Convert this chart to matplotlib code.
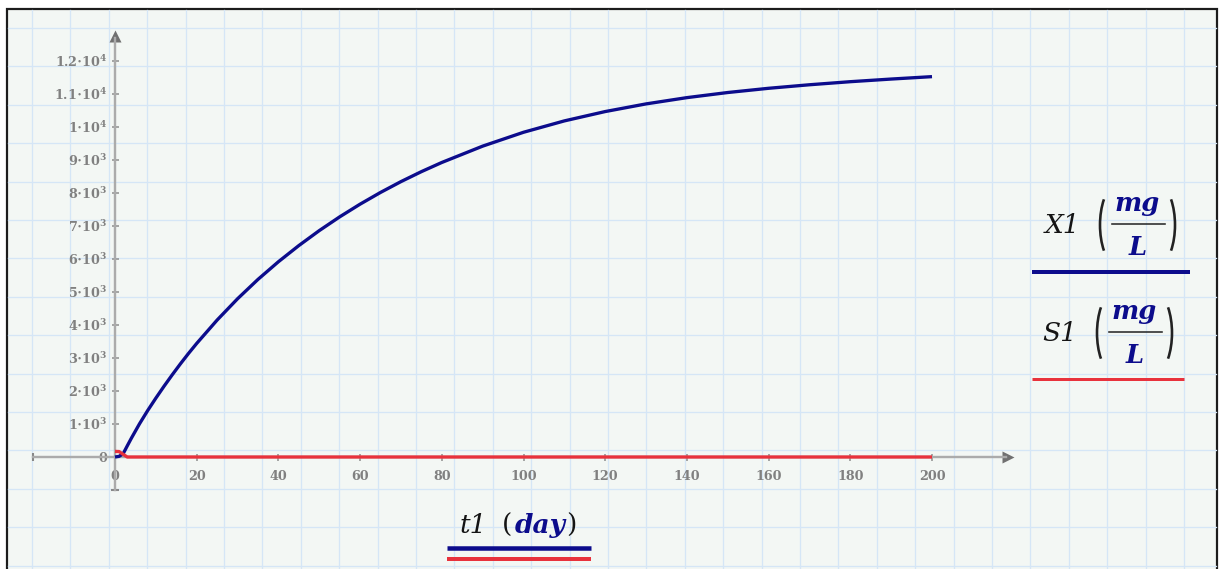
import numpy as np
import matplotlib.pyplot as plt
from matplotlib.patches import Rectangle, Arc

plt.rcParams["mathtext.fontset"] = "dejavuserif"

# biomass X1 over time (mg/L vs day)
t_day = [0, 1, 2, 3, 4, 6, 8, 10, 12, 14, 16, 18, 20, 25, 30, 35, 40, 45, 50, 55,
         60, 65, 70, 75, 80, 90, 100, 110, 120, 130, 140, 150, 160, 170, 180, 190, 200]
x1_mg_l = [0, 20, 100, 337, 568, 1006, 1408, 1784, 2144, 2489, 2821, 3139, 3442,
           4150, 4795, 5382, 5917, 6407, 6860, 7277, 7662, 8017, 8345, 8647, 8925,
           9420, 9840, 10185, 10468, 10700, 10890, 11045, 11173, 11280, 11373,
           11453, 11526]

# substrate S1 is used up within the first days
s1_t_day = [0, 1, 2, 3, 200]
s1_mg_l = [170, 165, 80, 0, 0]

x_ticks = [0, 20, 40, 60, 80, 100, 120, 140, 160, 180, 200]
x_tick_labels = ["0", "20", "40", "60", "80", "100", "120", "140", "160", "180", "200"]
y_ticks = [0, 1000, 2000, 3000, 4000, 5000, 6000, 7000, 8000, 9000, 10000, 11000, 12000]
y_tick_labels = ["0", r"$\mathbf{1{\cdot}10^3}$", r"$\mathbf{2{\cdot}10^3}$",
                 r"$\mathbf{3{\cdot}10^3}$", r"$\mathbf{4{\cdot}10^3}$",
                 r"$\mathbf{5{\cdot}10^3}$", r"$\mathbf{6{\cdot}10^3}$",
                 r"$\mathbf{7{\cdot}10^3}$", r"$\mathbf{8{\cdot}10^3}$",
                 r"$\mathbf{9{\cdot}10^3}$", r"$\mathbf{1{\cdot}10^4}$",
                 r"$\mathbf{1.1{\cdot}10^4}$", r"$\mathbf{1.2{\cdot}10^4}$"]

W, H, DPI = 1219, 569, 100
BLUE = "#0c0c8c"
RED = "#e8323c"
INK = "#141414"
AXIS_GRAY = "#ababab"
SERIF = "DejaVu Serif"
PX = 72 / DPI  # points per pixel

fig = plt.figure(figsize=(W / DPI, H / DPI), dpi=DPI)
fig.patch.set_facecolor("white")

# page background in pixel coordinates: frame + worksheet grid
bg = fig.add_axes([0, 0, 1, 1])
bg.set_xlim(0, W)
bg.set_ylim(H, 0)
bg.axis("off")
bg.add_patch(Rectangle((7, 9), 1210, 580, facecolor="#f3f7f4",
                       edgecolor="#1c1c1c", lw=2.2 * PX, zorder=0))
for gx in np.arange(32, 1216, 38.4):
    bg.plot([gx, gx], [10, H], color="#d5e6f6", lw=1.3 * PX, zorder=1)
for gy in np.arange(28, H, 38.4):
    bg.plot([8, 1216], [gy, gy], color="#d5e6f6", lw=1.3 * PX, zorder=1)

# plot region: t = 0 at x=115 px, value 0 at y=457 px
xlim = (-20, 221)
ylim = (-1000, 13000)
px_day, px_unit = 4.085, 0.033
left_px = 115 + xlim[0] * px_day
right_px = 115 + xlim[1] * px_day
bottom_px = 457 - ylim[0] * px_unit
top_px = 457 - ylim[1] * px_unit
ax = fig.add_axes([left_px / W, (H - bottom_px) / H,
                   (right_px - left_px) / W, (bottom_px - top_px) / H])
ax.set_facecolor("none")
ax.set_xlim(*xlim)
ax.set_ylim(*ylim)

for side in ("top", "right"):
    ax.spines[side].set_visible(False)
ax.spines["bottom"].set_position(("data", 0))
ax.spines["left"].set_position(("data", 0))
ax.spines["bottom"].set_bounds(-20, 218)
ax.spines["left"].set_bounds(-1000, 12700)
for side in ("bottom", "left"):
    ax.spines[side].set_color(AXIS_GRAY)
    ax.spines[side].set_linewidth(2.4 * PX)

# arrow heads and end caps of the axes
ax.plot([218.5], [0], marker=">", ms=9, color="#707070", mec="none", clip_on=False)
ax.plot([0], [12750], marker="^", ms=9, color="#707070", mec="none", clip_on=False)
ax.plot([-20], [0], marker="|", ms=6, mew=1.5, color="#888888", clip_on=False)
ax.plot([0], [-1000], marker="_", ms=6, mew=1.5, color="#888888", clip_on=False)

ax.set_xticks(x_ticks)
ax.set_xticklabels(x_tick_labels)
ax.set_yticks(y_ticks)
ax.set_yticklabels(y_tick_labels)
ax.tick_params(axis="both", direction="inout", length=7 * PX, width=1.5 * PX,
               color="#8c8c8c", labelcolor="#808080", labelsize=9.2)
ax.tick_params(axis="x", pad=7)
ax.tick_params(axis="y", pad=3)
for lab in ax.get_xticklabels() + ax.get_yticklabels():
    lab.set_family(SERIF)
    lab.set_weight("bold")

ax.plot(t_day, x1_mg_l, color=BLUE, lw=3.3 * PX, solid_capstyle="butt",
        solid_joinstyle="round", zorder=3)
ax.plot(s1_t_day, s1_mg_l, color=RED, lw=3.3 * PX, solid_capstyle="butt", zorder=4)


def unit_fraction(x_name, y_mid, name, x_paren_l, x_paren_r):
    """Series name followed by (mg/L) stacked fraction in big parentheses."""
    bg.text(x_name, y_mid + 8, name, family=SERIF, style="italic", fontsize=19,
            color=INK, ha="center", va="baseline", zorder=5)
    for cx, t1, t2 in ((x_paren_l + 20, 122, 238), (x_paren_r - 20, -58, 58)):
        bg.add_patch(Arc((cx, y_mid), 40, 86, theta1=t1, theta2=t2,
                         color="#222222", lw=2.6 * PX, zorder=5))
    mid = (x_paren_l + x_paren_r) / 2
    bg.plot([x_paren_l + 12, x_paren_r - 10], [y_mid - 1, y_mid - 1],
            color="#2a2a2a", lw=1.6 * PX, zorder=5)
    bg.text(mid, y_mid - 14, "mg", family=SERIF, style="italic", weight="bold",
            fontsize=18.5, color=BLUE, ha="center", va="baseline", zorder=5)
    bg.text(mid, y_mid + 30, "L", family=SERIF, style="italic", weight="bold",
            fontsize=18.5, color=BLUE, ha="center", va="baseline", zorder=5)


# legend entries on the right
unit_fraction(1062, 225, "X1", 1100, 1175)
bg.plot([1032, 1190], [271.7, 271.7], color=BLUE, lw=4 * PX, solid_capstyle="butt")
unit_fraction(1060, 333, "S1", 1097, 1172)
bg.plot([1032, 1184], [379.3, 379.3], color=RED, lw=3 * PX, solid_capstyle="butt")

# time axis label
bg.text(460, 533, "t1", family=SERIF, style="italic", fontsize=19, color=INK,
        ha="left", va="baseline")
bg.text(502, 533, "(", family=SERIF, fontsize=19, color=INK, ha="left", va="baseline")
bg.text(515, 533, "day", family=SERIF, style="italic", weight="bold", fontsize=19,
        color=BLUE, ha="left", va="baseline")
bg.text(566, 533, ")", family=SERIF, fontsize=19, color=INK, ha="left", va="baseline")
bg.plot([447, 591], [548.3, 548.3], color=BLUE, lw=4.5 * PX, solid_capstyle="butt")
bg.plot([447, 591], [559.3, 559.3], color=RED, lw=4 * PX, solid_capstyle="butt")

fig.savefig("out.png", dpi=DPI)
